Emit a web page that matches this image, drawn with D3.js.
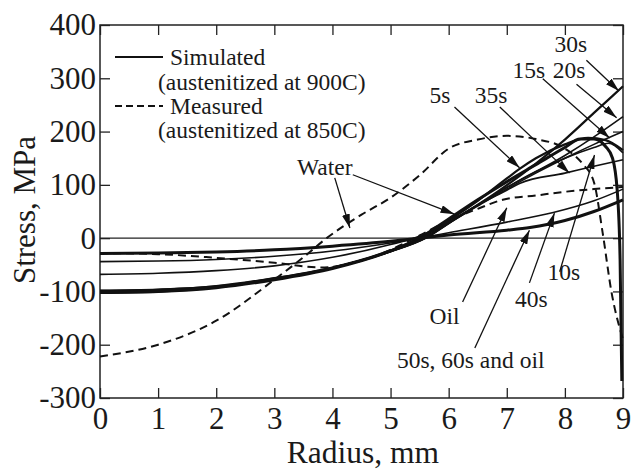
<!DOCTYPE html>
<html>
<head>
<meta charset="utf-8">
<script src="https://cdn.jsdelivr.net/npm/d3@7"></script>
<style>
body { margin: 0; background: #fff; }
svg text { font-family: "Liberation Serif", "Times New Roman", Times, serif; fill: #1a1a1a; }
</style>
</head>
<body>
<svg id="chart" width="632" height="471"></svg>
<script>
// tick values
const xTicks = [0, 1, 2, 3, 4, 5, 6, 7, 8, 9];
const yTicks = [-300, -200, -100, 0, 100, 200, 300, 400];

// simulated curves, [radius mm, stress MPa]
const simWater = [[0,-102],[1,-100],[2,-93],[3,-78],[4,-57],[5,-24],[5.5,0],[6,36],[6.5,72],[7,106],[7.5,138],[8,170],[8.26,186],[8.5,186],[8.7,172],[8.82,150],[8.9,90],[8.95,-40],[8.98,-268]];
const sim5s = [[0,-99],[1,-97],[2,-90],[3,-75],[4,-55],[5,-23],[5.5,0],[6,33],[6.5,70],[7,112],[7.22,130],[7.5,150],[8,176],[8.4,188],[8.7,184],[9,165]];
const sim10s = [[0,-103],[1,-101],[2,-93],[3,-77],[4,-57],[5,-24],[5.55,0],[6,30],[6.5,62],[7,95],[7.5,125],[8,150],[8.5,170],[8.75,178],[9,160]];
const sim15s = [[0,-100],[1,-98],[2,-91],[3,-76],[4,-56],[5,-25],[5.6,0],[6,28],[6.5,60],[7,92],[7.5,122],[8,150],[8.5,176],[9,200]];
const sim20s = [[0,-98],[1,-96],[2,-90],[3,-75],[4,-55],[5,-25],[5.6,0],[6,28],[7,95],[8,155],[8.5,190],[9,228]];
const sim30s = [[0,-101],[1,-99],[2,-92],[3,-77],[4,-56],[5,-25],[5.6,0],[6,28],[6.88,90],[7.5,140],[8,185],[8.5,235],[9,285]];
const sim35s = [[0,-68],[1,-66],[2,-61],[3,-52],[4,-36],[5,-12],[5.4,0],[6,30],[6.5,62],[7,90],[7.23,103],[8,122],[8.5,135],[9,147]];
const sim40s = [[0,-44],[1,-43],[2,-40],[3,-34],[4,-24],[5,-9],[5.5,0],[6,10],[7,30],[7.8,48],[8.5,70],[9,92]];
const sim50s = [[0,-29],[1,-28],[2,-26],[3,-22],[4,-15],[5,-6],[5.5,0],[6,6],[7,15],[7.4,20],[8,33],[8.5,50],[9,72]];

// measured curves
const measWater = [[0,-222],[1,-200],[2,-155],[3,-78],[3.5,-36],[3.9,0],[4.5,44],[5,76],[5.5,118],[6,168],[6.5,185],[7,192],[7.5,186],[8,168],[8.3,140],[8.5,105],[8.65,10],[8.8,-100],[9,-190]];
const measOil = [[0,-28],[1,-30],[2,-37],[3,-46],[3.8,-55],[4.5,-42],[5,-22],[5.5,5],[6,33],[6.5,55],[6.93,72],[7.5,80],[8,87],[8.5,92],[9,96]];

const simulated = [
  {name: "water", pts: simWater, w: 3},
  {name: "5s", pts: sim5s, w: 2.2},
  {name: "10s", pts: sim10s, w: 1.6},
  {name: "15s", pts: sim15s, w: 1.6},
  {name: "20s", pts: sim20s, w: 1.6},
  {name: "30s", pts: sim30s, w: 2.2},
  {name: "35s", pts: sim35s, w: 1.6},
  {name: "40s", pts: sim40s, w: 1.6},
  {name: "50s", pts: sim50s, w: 3}
];
const measured = [measWater, measOil];

// annotations: label [r, s], arrows [[r0,s0],[r1,s1]]
const labels = [
  {t: "Water", at: [3.39, 118], arrows: [[[4.04,113],[4.30,19]], [[4.35,119],[6.10,45]]]},
  {t: "5s", at: [5.67, 253], arrows: [[[6.10,246],[7.22,132]]]},
  {t: "35s", at: [6.45, 253], arrows: [[[6.88,246],[8.08,122]]]},
  {t: "15s", at: [7.10, 300], arrows: [[[7.62,299],[8.77,188]]]},
  {t: "20s", at: [7.79, 300], arrows: [[[8.20,289],[8.89,226]]]},
  {t: "30s", at: [7.82, 349], arrows: [[[8.37,334],[8.93,276]]]},
  {t: "Oil", at: [5.67, -162], arrows: [[[6.24,-120],[7.0,57]]]},
  {t: "50s, 60s and oil", at: [5.11, -243], arrows: [[[6.45,-206],[7.39,15]]]},
  {t: "40s", at: [7.14, -129], arrows: [[[7.39,-84],[7.82,47]]]},
  {t: "10s", at: [7.70, -78], arrows: [[[7.91,-63],[8.51,156]]]}
];

const FONT = "'Liberation Serif', 'Times New Roman', Times, serif";

const svg = d3.select("svg#chart");
const x = d3.scaleLinear().domain([0, 9]).range([100, 623]);
const y = d3.scaleLinear().domain([-300, 400]).range([398, 25]);

svg.append("defs").append("marker")
  .attr("id", "head")
  .attr("markerUnits", "userSpaceOnUse")
  .attr("viewBox", "0 0 14 8")
  .attr("refX", 14).attr("refY", 4)
  .attr("markerWidth", 14).attr("markerHeight", 8)
  .attr("orient", "auto")
  .append("path").attr("d", "M0,0L14,4L0,8Z").attr("fill", "#111");

// frame and ticks (inward)
svg.append("rect")
  .attr("x", x(0)).attr("y", y(400))
  .attr("width", x(9) - x(0)).attr("height", y(-300) - y(400))
  .attr("fill", "none").attr("stroke", "#222").attr("stroke-width", 1.5);

svg.append("g").attr("transform", `translate(0,${y(-300)})`)
  .call(d3.axisBottom(x).tickValues(xTicks).tickSize(-10).tickPadding(9).tickFormat(d => String(d)));
svg.append("g").attr("transform", `translate(${x(0)},0)`)
  .call(d3.axisLeft(y).tickValues(yTicks).tickSize(-10).tickPadding(4).tickFormat(d => String(d)));
svg.append("g").attr("transform", `translate(0,${y(400)})`)
  .call(d3.axisTop(x).tickValues(xTicks).tickSize(-10).tickFormat(""));
svg.append("g").attr("transform", `translate(${x(9)},0)`)
  .call(d3.axisRight(y).tickValues(yTicks).tickSize(-10).tickFormat(""));

svg.selectAll("g").attr("font-family", null);
svg.selectAll(".domain").remove();
svg.selectAll(".tick line").attr("stroke", "#222").attr("stroke-width", 1.3);
svg.selectAll(".tick text").attr("font-size", 31).attr("fill", "#1a1a1a");

// zero line
svg.append("line")
  .attr("x1", x(0)).attr("x2", x(9)).attr("y1", y(0)).attr("y2", y(0))
  .attr("stroke", "#222").attr("stroke-width", 1.3);

let line = d3.line().x(d => x(d[0])).y(d => y(d[1])).curve(d3.curveMonotoneX);

svg.append("g").selectAll("path")
  .data(simulated).enter().append("path")
  .attr("d", d => line(d.pts))
  .attr("fill", "none").attr("stroke", "#111")
  .attr("stroke-width", d => d.w);

svg.append("g").selectAll("path")
  .data(measured).enter().append("path")
  .attr("d", d => line(d))
  .attr("fill", "none").attr("stroke", "#111")
  .attr("stroke-width", 2).attr("stroke-dasharray", "8,5");

// legend
let lg = svg.append("g");
lg.append("line").attr("x1", 115).attr("x2", 163).attr("y1", 57).attr("y2", 57)
  .attr("stroke", "#111").attr("stroke-width", 2.2);
lg.append("text").attr("x", 170).attr("y", 65).attr("font-size", 23.5).text("Simulated");
lg.append("text").attr("x", 158).attr("y", 90).attr("font-size", 23.5).text("(austenitized at 900C)");
lg.append("line").attr("x1", 115).attr("x2", 163).attr("y1", 106).attr("y2", 106)
  .attr("stroke", "#111").attr("stroke-width", 2).attr("stroke-dasharray", "7,4");
lg.append("text").attr("x", 170).attr("y", 114).attr("font-size", 23.5).text("Measured");
lg.append("text").attr("x", 158).attr("y", 138).attr("font-size", 23.5).text("(austenitized at 850C)");

// annotations
let ann = svg.append("g");
labels.forEach(function (l) {
  ann.append("text").attr("x", x(l.at[0])).attr("y", y(l.at[1]))
    .attr("font-size", 23.5).text(l.t);
  l.arrows.forEach(function (a) {
    ann.append("line")
      .attr("x1", x(a[0][0])).attr("y1", y(a[0][1]))
      .attr("x2", x(a[1][0])).attr("y2", y(a[1][1]))
      .attr("stroke", "#111").attr("stroke-width", 1.3)
      .attr("marker-end", "url(#head)");
  });
});

// axis titles
svg.append("text")
  .attr("transform", "translate(35,210) rotate(-90)")
  .attr("text-anchor", "middle").attr("font-size", 31)
  .text("Stress, MPa");
svg.append("text")
  .attr("x", 363).attr("y", 463)
  .attr("text-anchor", "middle").attr("font-size", 31.5)
  .text("Radius, mm");

svg.selectAll("text").style("font-family", FONT);
</script>
</body>
</html>
